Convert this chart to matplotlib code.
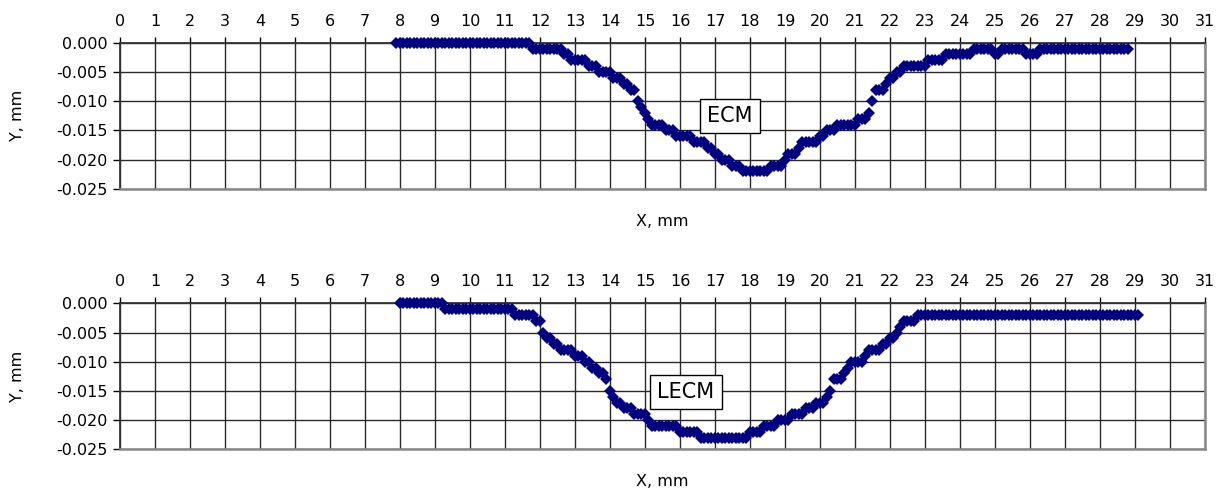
import matplotlib
matplotlib.use("Agg")
import matplotlib.pyplot as plt
import numpy as np

plt.rcParams['font.family'] = ['DejaVu Sans']

# profile depth (micrometres) sampled every 0.1 mm
ecm_x0 = 7.9
ecm_y = [0, 0, 0, 0, 0, 0, 0, 0, 0, 0, 0, 0, 0, 0, 0, 0, 0, 0, 0, 0,
         0, 0, 0, 0, 0, 0, 0, 0, 0, 0, 0, 0, 0, 0, 0, 0, 0, 0, 0,
         -1, -1, -1, -1, -1, -1, -1, -1, -1,
         -2, -2, -3, -3, -3, -3, -3, -4, -4, -4, -5,
         -5, -5, -5, -6, -6, -6, -7, -7, -8, -8, -10, -11, -12, -13,
         -14, -14, -14, -14, -15, -15, -15, -16, -16, -16, -16, -16,
         -17, -17, -17, -17, -18, -18, -19, -19, -20, -20, -20,
         -21, -21, -21, -22, -22, -22, -22, -22, -22, -22, -22,
         -21, -21, -21, -21, -20, -19, -19, -19, -18,
         -17, -17, -17, -17, -17, -16, -16, -15, -15, -15,
         -14, -14, -14, -14, -14, -14, -13, -13, -13, -12,
         -10, -8, -8, -8, -7, -6, -6, -5, -5, -4, -4, -4, -4, -4, -4, -4,
         -3, -3, -3, -3, -3, -2, -2, -2, -2, -2, -2, -2, -2,
         -1, -1, -1, -1, -1, -1, -2, -2, -1, -1, -1, -1, -1, -1, -1,
         -2, -2, -2, -2,
         -1, -1, -1, -1, -1, -1, -1, -1, -1, -1, -1, -1, -1,
         -1, -1, -1, -1, -1, -1, -1, -1, -1, -1, -1, -1, -1]

lecm_x0 = 8.0
lecm_y = [0, 0, 0, 0, 0, 0, 0, 0, 0, 0, 0, 0, 0,
          -1, -1, -1, -1, -1, -1, -1, -1, -1, -1,
          -1, -1, -1, -1, -1, -1, -1, -1, -1, -1,
          -2, -2, -2, -2, -2, -2,
          -3, -3, -5, -6, -6, -7, -7, -8, -8, -8, -8,
          -9, -9, -9, -10, -10, -11, -11, -12, -12, -13,
          -15, -16, -17, -17, -18, -18, -18, -19, -19, -19, -19,
          -20, -21, -21, -21, -21, -21, -21, -21, -21,
          -22, -22, -22, -22, -22, -22,
          -23, -23, -23, -23, -23, -23, -23, -23, -23, -23, -23, -23, -23, -23,
          -22, -22, -22, -22, -21, -21, -21, -21, -20, -20, -20, -20,
          -19, -19, -19, -19, -18, -18, -18, -17, -17, -17, -16, -15,
          -13, -13, -13, -12, -11, -10, -10, -10, -10, -9,
          -8, -8, -8, -8, -7, -7, -6, -6, -5, -4, -3, -3, -3, -3,
          -2, -2, -2, -2, -2, -2, -2, -2, -2, -2, -2, -2, -2, -2, -2, -2,
          -2, -2, -2, -2, -2, -2, -2, -2, -2, -2, -2, -2, -2, -2, -2, -2,
          -2, -2, -2, -2, -2, -2, -2, -2, -2, -2, -2, -2, -2, -2, -2, -2,
          -2, -2, -2, -2, -2, -2, -2, -2, -2, -2, -2, -2, -2, -2, -2, -2]

x_ticks = list(range(0, 32))
y_ticks = [0.0, -0.005, -0.010, -0.015, -0.020, -0.025]
y_tick_labels = ["0.000", "-0.005", "-0.010", "-0.015", "-0.020", "-0.025"]

series = [("ECM", ecm_x0, ecm_y, (17.42, -0.0125)),
          ("LECM", lecm_x0, lecm_y, (16.17, -0.0152))]

fig = plt.figure(figsize=(12.27, 4.92), dpi=100)
boxes = [[0.0978, 0.616, 0.8842, 0.297], [0.0978, 0.0868, 0.8842, 0.2967]]

for (name, x0, yv, lab), rect in zip(series, boxes):
    ax = fig.add_axes(rect)
    y = np.array(yv) / 1000.0
    x = x0 + 0.1 * np.arange(len(y))
    ax.plot(x, y, linestyle="none", marker="D", markersize=6.5,
            color="#000080", markeredgewidth=0, clip_on=False, zorder=3)
    ax.set_xlim(0, 31)
    ax.set_ylim(-0.025, 0.0)
    ax.set_xticks(x_ticks)
    ax.set_yticks(y_ticks)
    ax.set_yticklabels(y_tick_labels)
    ax.xaxis.tick_top()
    ax.xaxis.set_label_position("bottom")
    ax.tick_params(axis="x", direction="out", length=4, width=1, pad=6,
                   labelsize=11.5, colors="black")
    ax.tick_params(axis="y", direction="out", length=5, width=1, pad=4,
                   labelsize=11.5)
    ax.grid(True, color="#2a2a2a", linewidth=1)
    ax.set_axisbelow(True)
    for s in ["top", "left"]:
        ax.spines[s].set_color("#333333")
        ax.spines[s].set_linewidth(1.3)
    for s in ["bottom", "right"]:
        ax.spines[s].set_color("#888888")
        ax.spines[s].set_linewidth(1.8)
    ax.set_xlabel("X, mm", fontsize=11.5, labelpad=18)
    ax.set_ylabel("Y, mm", fontsize=11.5, labelpad=22)
    ax.text(lab[0], lab[1], name, fontsize=15, ha="center", va="center",
            zorder=5,
            bbox=dict(boxstyle="square,pad=0.35", facecolor="white",
                      edgecolor="black", linewidth=1))

fig.savefig("out.png", dpi=100)
